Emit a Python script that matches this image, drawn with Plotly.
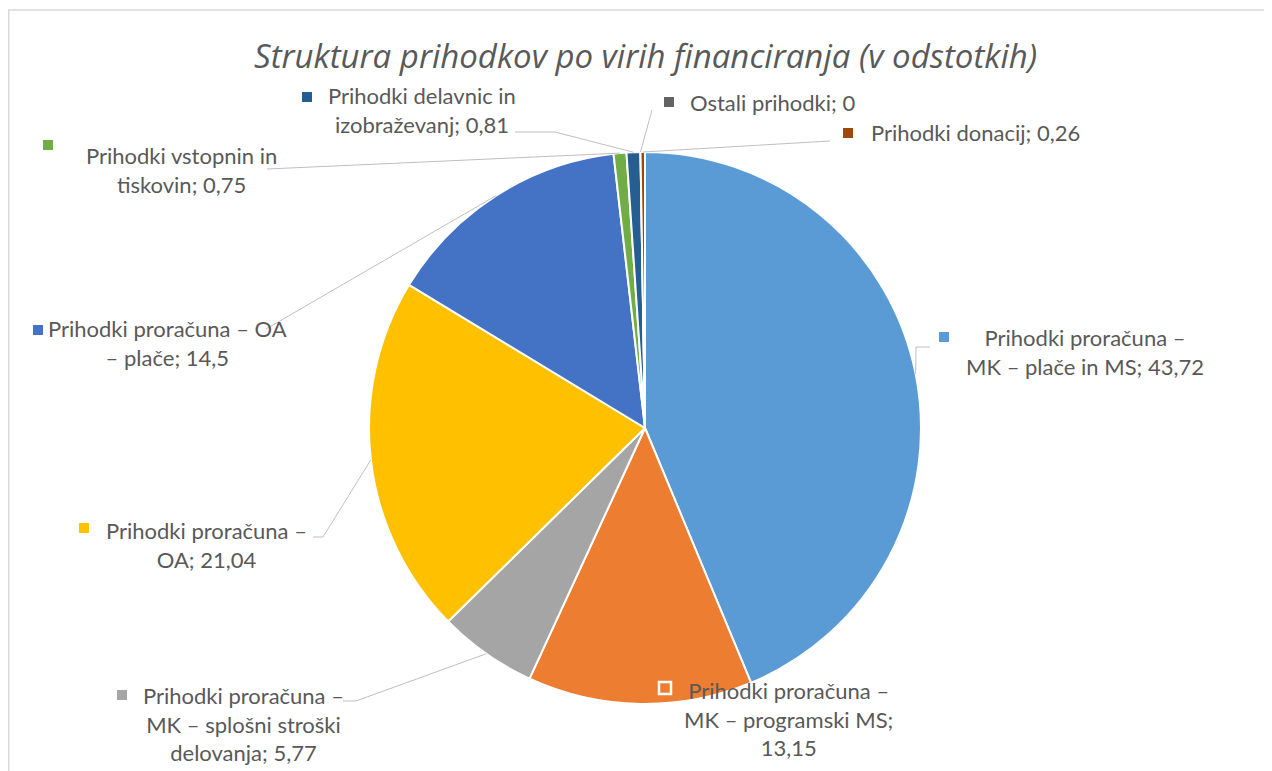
import math
import plotly.graph_objects as go

# ---- data ----
labels = [
    "Prihodki proračuna – MK – plače in MS",
    "Prihodki proračuna – MK – programski MS",
    "Prihodki proračuna – MK – splošni stroški delovanja",
    "Prihodki proračuna – OA",
    "Prihodki proračuna – OA – plače",
    "Prihodki vstopnin in tiskovin",
    "Prihodki delavnic in izobraževanj",
    "Ostali prihodki",
    "Prihodki donacij",
]
values = [43.72, 13.15, 5.77, 21.04, 14.5, 0.75, 0.81, 0, 0.26]
colors = ["#5B9BD5", "#ED7D31", "#A5A5A5", "#FFC000", "#4472C4",
          "#70AD47", "#255E91", "#636363", "#9E480E"]
# label text as wrapped in the chart (value appended from values)
label_lines = [
    ["Prihodki proračuna –", "MK – plače in MS; {v}"],
    ["Prihodki proračuna –", "MK – programski MS;", "{v}"],
    ["Prihodki proračuna –", "MK – splošni stroški", "delovanja; {v}"],
    ["Prihodki proračuna –", "OA; {v}"],
    ["Prihodki proračuna – OA", "– plače; {v}"],
    ["Prihodki vstopnin in", "tiskovin; {v}"],
    ["Prihodki delavnic in", "izobraževanj; {v}"],
    ["Ostali prihodki; {v}"],
    ["Prihodki donacij; {v}"],
]
title_text = "Struktura prihodkov po virih financiranja (v odstotkih)"

# ---- layout geometry (pixels, page coordinates) ----
W, H = 1272, 771
OFF = 8  # page body margin
CX, CY, R = 645, 428, 276
label_pos = [(1085, 352), (789, 719), (244, 724), (206, 545), (167, 343),
             (181, 170), (422, 110), (772, 102), (975, 133)]
key_pos = [(944, 337), (665, 688), (122, 695), (84, 528), (38, 330),
           (48, 145), (307, 97), (669, 102), (848, 133)]
leader_start = [
    [(930, 347), (916, 347)],
    None,
    [(343, 701), (356, 701)],
    [(313, 537), (323, 537)],
    [(266, 329)],
    [(267, 169)],
    [(515, 132), (555, 132)],
    [(652, 110)],
    [(830, 141)],
]

def px(x):
    return (x - OFF) / W

def py(y):
    return 1 - (y - OFF) / H

def fmt(v):
    return ("%g" % v).replace(".", ",")

TXT = "#595959"
FONT = "Lato"

fig = go.Figure()
fig.add_trace(go.Pie(
    labels=labels, values=values, sort=False, direction="clockwise", rotation=0,
    marker=dict(colors=colors, line=dict(color="white", width=2)),
    textinfo="none", hoverinfo="label+value", showlegend=False,
    domain=dict(x=[px(CX - R), px(CX + R)], y=[py(CY + R), py(CY - R)]),
))

shapes = []
annotations = []
shapes.append(dict(type="rect", xref="paper", yref="paper",
                   x0=px(OFF + 0.75), x1=px(W + 30), y0=py(10), y1=py(H + 30),
                   line=dict(color="#D9D9D9", width=1.5), fillcolor="rgba(0,0,0,0)", layer="below"))

total = sum(values)
cum = 0.0
for i, v in enumerate(values):
    mid = (cum + v / 2) / total * 2 * math.pi
    cum += v
    ex = CX + R * math.sin(mid)
    ey = CY - R * math.cos(mid)
    if leader_start[i] is not None:
        pts = leader_start[i] + [(ex, ey)]
        path = "M " + " L ".join("%f,%f" % (px(a), py(b)) for a, b in pts)
        shapes.append(dict(type="path", xref="paper", yref="paper", path=path,
                           line=dict(color="#BFBFBF", width=1)))
    txt = "<br>".join(l.format(v=fmt(v)) for l in label_lines[i])
    lx, ly = label_pos[i]
    annotations.append(dict(x=px(lx), y=py(ly), xref="paper", yref="paper",
                            text=txt, showarrow=False, align="center",
                            xanchor="center", yanchor="middle",
                            font=dict(family=FONT, size=22, color=TXT)))
    kx, ky = key_pos[i]
    if i == 1:
        s = 6
        shapes.append(dict(type="rect", xref="paper", yref="paper",
                           x0=px(kx - s), x1=px(kx + s), y0=py(ky + s), y1=py(ky - s),
                           fillcolor=colors[i], line=dict(color="white", width=2.5)))
    else:
        s = 5
        shapes.append(dict(type="rect", xref="paper", yref="paper",
                           x0=px(kx - s), x1=px(kx + s), y0=py(ky + s), y1=py(ky - s),
                           fillcolor=colors[i], line=dict(width=0)))

annotations.append(dict(x=px(645), y=py(55), xref="paper", yref="paper",
                        text="<i>" + title_text + "</i>", showarrow=False,
                        xanchor="center", yanchor="middle",
                        font=dict(family="Open Sans", size=33, color=TXT)))

fig.update_layout(width=W, height=H, margin=dict(l=0, r=0, t=0, b=0),
                  paper_bgcolor="white", plot_bgcolor="white",
                  shapes=shapes, annotations=annotations, showlegend=False)
fig.write_html("out.html")
